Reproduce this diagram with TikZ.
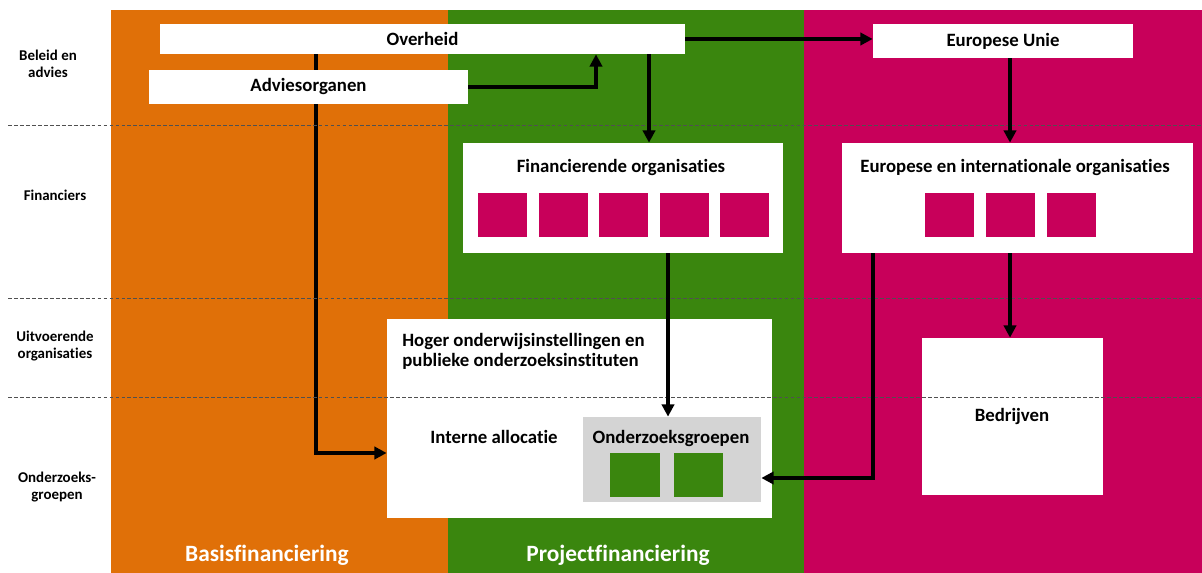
\documentclass[tikz,border=0pt]{standalone}
\usepackage{fontspec}
\setmainfont{Carlito}[Ligatures=NoCommon]
\usetikzlibrary{arrows.meta,fit}
\pgfdeclarelayer{bg}\pgfdeclarelayer{mid}\pgfsetlayers{bg,mid,main}
\definecolor{cOr}{HTML}{E07008}
\definecolor{cGr}{HTML}{3A860E}
\definecolor{cMa}{HTML}{C8005A}
\definecolor{cGy}{HTML}{D4D4D4}
\definecolor{cDash}{HTML}{505050}
\tikzset{
  box/.style={fill=white,draw=none,inner sep=0pt,font=\fontsize{10.5}{12}\selectfont\bfseries},
  sq/.style={inner sep=0pt,draw=none},
  txt/.style={inner sep=0pt,font=\fontsize{10.7}{11.5}\selectfont\bfseries},
  rowlab/.style={inner sep=0pt,align=center,font=\fontsize{8.5}{10}\selectfont\bfseries},
  collab/.style={inner sep=0pt,text=white,font=\fontsize{13.3}{15}\selectfont\bfseries},
  conn/.style={line width=1.9pt,-{Triangle[length=7pt,width=7pt]}},
  sep/.style={cDash,line width=0.5pt,dash pattern=on 2.2pt off 1.2pt}
}
\begin{document}
\begin{tikzpicture}[x=0.02cm,y=-0.02cm]
\useasboundingbox (0,0) rectangle (1202,573);
\begin{pgfonlayer}{bg}
\fill[cOr] (111,10) rectangle (448,573);
\fill[cGr] (448,10) rectangle (804,573);
\fill[cMa] (804,10) rectangle (1202,573);
\end{pgfonlayer}
% row labels
\node[rowlab] (rl1) at (48,64) {Beleid en\\advies};
\node[rowlab] (rl2) at (55,195) {Financiers};
\node[rowlab] (rl3) at (55,346) {Uitvoerende\\organisaties};
\node[rowlab] (rl4) at (57,487) {Onderzoeks-\\groepen};
% column labels
\node[collab] (c1) at (267,555) {Basisfinanciering};
\node[collab] (c2) at (618,555) {Projectfinanciering};
% top row
\node[box,fit={(160,24) (685,54)}] (ov) {};
\node[txt] (ovt) at (ov.center) {Overheid};
\node[box,fit={(149,70) (468,104)}] (adv) {};
\node[txt] (advt) at (adv.center) {Adviesorganen};
\node[box,fit={(873,24) (1133,58)}] (eu) {};
\node[txt] (eut) at (eu.center) {Europese Unie};
% financiers
\node[box,fit={(463,143) (783,253)}] (fin) {};
\node[txt] (fint) at (621,168) {Financierende organisaties};
\foreach \x [count=\i] in {478,539,599,660,720}
  \node[sq,fill=cMa,fit={(\x,193) (\x+49,237)}] (fs\i) {};
\node[box,fit={(842,143) (1193,253)}] (eio) {};
\node[txt] (eiot) at (1015,168) {Europese en internationale organisaties};
\foreach \x [count=\i] in {925,986,1047}
  \node[sq,fill=cMa,fit={(\x,193) (\x+49,237)}] (es\i) {};
% uitvoerende
\node[box,fit={(387,319) (772,518)}] (ho) {};
\node[txt,align=left,anchor=north west] (hot) at (402,333) {Hoger onderwijsinstellingen en\\publieke onderzoeksinstituten};
\node[txt] (ia) at (494,437) {Interne allocatie};
\node[sq,fill=cGy,fit={(583,417) (761,502)}] (og) {};
\node[txt] (ogt) at (671,438) {Onderzoeksgroepen};
\node[sq,fill=cGr,fit={(610,453) (660,497)}] (gs1) {};
\node[sq,fill=cGr,fit={(674,453) (723,497)}] (gs2) {};
\node[box,fit={(922,338) (1103,495)}] (bed) {};
\node[txt] (bedt) at (1012,416) {Bedrijven};
% separators
\foreach \y [count=\i] in {125,298,397}
  \draw[sep] (8,\y) coordinate (sl\i) -- (1202,\y) coordinate (sr\i);
% connectors
\begin{pgfonlayer}{mid}
\draw[conn] (ov.south -| 316,0) |- (ho.west |- 0,453);
\end{pgfonlayer}
\draw[conn] (ov.east) -- (eu.west |- ov.east);
\draw[conn] (adv.east) -| (ov.south -| 596,0);
\draw[conn] (ov.south -| 649,0) -- (fin.north -| 649,0);
\draw[conn] (fin.south -| 668,0) -- (og.north -| 668,0);
\draw[conn] (eu.south -| 1010,0) -- (eio.north -| 1010,0);
\draw[conn] (eio.south -| 1010,0) -- (bed.north -| 1010,0);
\draw[conn] (eio.south -| 873,0) |- (og.east |- 0,478);
\end{tikzpicture}
\end{document}
